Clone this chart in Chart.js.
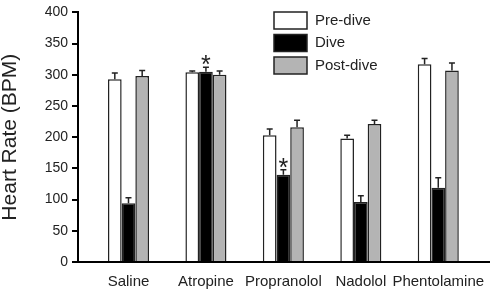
<!DOCTYPE html>
<html>
<head>
<meta charset="utf-8">
<script src="https://cdn.jsdelivr.net/npm/chart.js@4.4.1/dist/chart.umd.min.js"></script>
<style>
  html, body { margin: 0; padding: 0; background: #fff; }
  #wrap { width: 490px; height: 290px; }
</style>
</head>
<body>
<div id="wrap"><canvas id="chart"></canvas></div>
<script>
const categories = ["Saline", "Atropine", "Propranolol", "Nadolol", "Phentolamine"];
const preDive = [293, 304, 203, 198, 317];
const dive = [94, 305, 140, 96, 119];
const postDive = [298, 300, 216, 221, 307];
const preDiveErr = [10, 2, 10, 5, 9];
const diveErr = [9, 7, 8, 10, 16];
const postDiveErr = [9, 6, 11, 6, 12];
const diveMarks = ["", "*", "*", "", ""];
const yTicks = [0, 50, 100, 150, 200, 250, 300, 350, 400];

const FONT = "'Liberation Sans', Arial, sans-serif";
const INK = "#222";

const toPoints = (vals) => vals.map((v, i) => ({ x: i, y: v }));

// error bars + asterisks
const errorBars = {
  id: "errorBars",
  afterDatasetsDraw(chart) {
    const ctx = chart.ctx;
    const y = chart.scales.y;
    ctx.save();
    chart.data.datasets.forEach((ds, di) => {
      const meta = chart.getDatasetMeta(di);
      meta.data.forEach((bar, i) => {
        const top = y.getPixelForValue(ds.data[i].y + ds.errors[i]);
        ctx.strokeStyle = INK;
        ctx.lineWidth = 1.5;
        ctx.beginPath();
        ctx.moveTo(bar.x, bar.y);
        ctx.lineTo(bar.x, top);
        ctx.moveTo(bar.x - 3, top);
        ctx.lineTo(bar.x + 3, top);
        ctx.stroke();
        if (ds.marks && ds.marks[i]) {
          ctx.fillStyle = INK;
          ctx.font = "25px " + FONT;
          ctx.textAlign = "center";
          ctx.textBaseline = "alphabetic";
          ctx.fillText(ds.marks[i], bar.x, top + 6);
        }
      });
    });
    ctx.restore();
  }
};

// vertical legend inside the plot
const boxLegend = {
  id: "boxLegend",
  afterDraw(chart) {
    const ctx = chart.ctx;
    ctx.save();
    chart.data.datasets.forEach((ds, i) => {
      const bx = 274, by = 12 + i * 22.5;
      ctx.fillStyle = ds.backgroundColor;
      ctx.fillRect(bx, by, 33, 17);
      ctx.strokeStyle = INK;
      ctx.lineWidth = 1.5;
      ctx.strokeRect(bx, by, 33, 17);
      ctx.fillStyle = INK;
      ctx.font = "15px " + FONT;
      ctx.textAlign = "left";
      ctx.textBaseline = "middle";
      ctx.fillText(ds.label, 315, by + 8.5);
    });
    ctx.restore();
  }
};

new Chart(document.getElementById("chart"), {
  type: "bar",
  data: {
    datasets: [
      { label: "Pre-dive", data: toPoints(preDive), errors: preDiveErr, backgroundColor: "#ffffff" },
      { label: "Dive", data: toPoints(dive), errors: diveErr, marks: diveMarks, backgroundColor: "#000000" },
      { label: "Post-dive", data: toPoints(postDive), errors: postDiveErr, backgroundColor: "#b4b4b4" }
    ]
  },
  options: {
    responsive: true,
    maintainAspectRatio: false,
    animation: false,
    layout: { padding: { top: 7, right: 0, left: 0, bottom: 0 } },
    datasets: {
      bar: {
        borderColor: INK,
        borderWidth: 1.5,
        categoryPercentage: 0.53,
        barPercentage: 1
      }
    },
    plugins: {
      legend: { display: false },
      tooltip: { enabled: false }
    },
    scales: {
      x: {
        type: "linear",
        offset: false,
        min: -0.652,
        max: 4.668,
        afterFit: (s) => { s.height = 28; },
        grid: { display: false },
        border: { display: true, color: "#000", width: 2 },
        ticks: {
          stepSize: 1,
          includeBounds: false,
          autoSkip: false,
          maxRotation: 0,
          padding: 3,
          color: INK,
          font: { family: FONT, size: 15 },
          callback: (v) => categories[v] || ""
        }
      },
      y: {
        min: 0,
        max: 400,
        afterFit: (s) => { s.width = 78; },
        afterBuildTicks: (s) => { s.ticks = yTicks.map((v) => ({ value: v })); },
        grid: { drawOnChartArea: false, drawTicks: true, tickLength: 6, color: "#000", lineWidth: 2 },
        border: { display: true, color: "#000", width: 2 },
        ticks: {
          padding: 4,
          color: INK,
          font: { family: FONT, size: 14 }
        },
        title: {
          display: true,
          text: "Heart Rate (BPM)",
          color: INK,
          padding: 0,
          font: { family: FONT, size: 21, lineHeight: 1 }
        }
      }
    }
  },
  plugins: [errorBars, boxLegend]
});
</script>
</body>
</html>
